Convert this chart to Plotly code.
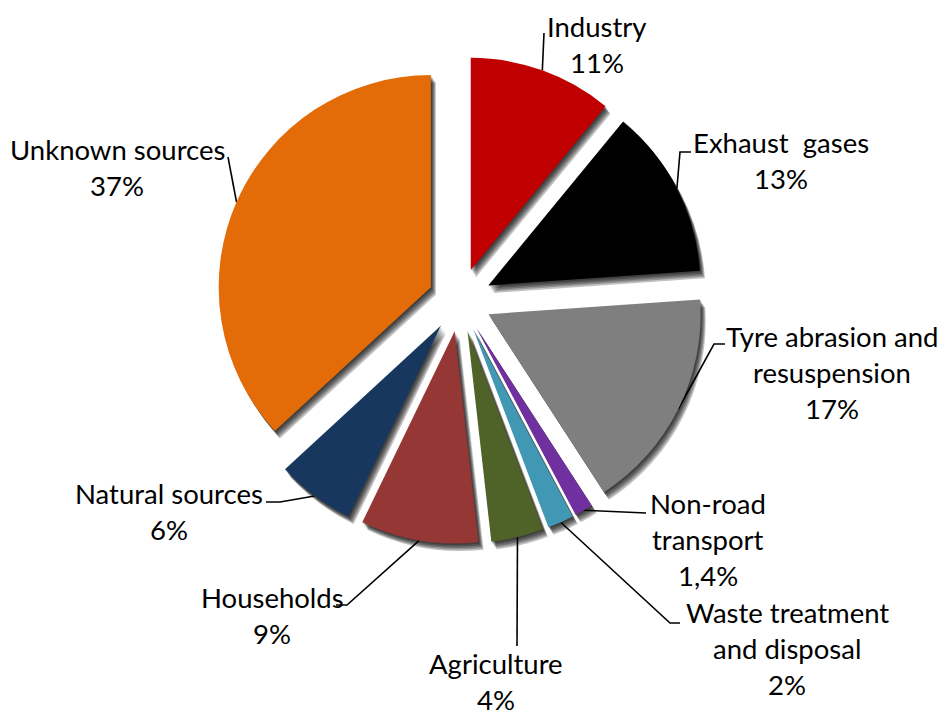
import math
import plotly.graph_objects as go

# Sources of particulate emissions (share, %)
categories = [
    "Industry",
    "Exhaust  gases",
    "Tyre abrasion and\nresuspension",
    "Non-road\ntransport",
    "Waste treatment\nand disposal",
    "Agriculture",
    "Households",
    "Natural sources",
    "Unknown sources",
]
shares = [11, 13, 17, 1.4, 2, 4, 9, 6, 37]
colors = ["#C00000", "#000000", "#7F7F7F", "#7030A0", "#4198B5",
          "#4F6228", "#953735", "#17375E", "#E36C09"]

# Label layout (pixel coordinates, origin top-left): text centre, first line y,
# and the elbow points of each leader line after it leaves the slice
label_x = [597, 781, 832, 708, 787, 496, 272, 169, 117]
label_y = [26, 142, 336, 503, 612, 663, 597, 493, 149]
elbows = [
    [(544, 33)],
    [(680, 152), (691, 152)],
    [(714, 344), (725, 344)],
    [(637, 513), (646, 513)],
    [(670, 623), (680, 623)],
    [(517, 646)],
    [(347, 605), (336, 605)],
    [(280, 502), (266, 502)],
    [(228, 157)],
]

W, H = 946, 718
CX, CY = 460, 300          # pie centre (px)
R_OUT = 244                # radius including the pull
PULL = 0.15
R = R_OUT / (1 + PULL)     # slice radius
LINE_GAP = 36
FONT = dict(family="Lato, 'Open Sans', sans-serif", size=27.5, color="#000000")


def domain_for(dx=0.0, dy=0.0):
    x0 = (CX - R_OUT + dx) / W
    x1 = (CX + R_OUT + dx) / W
    y0 = 1 - (CY + R_OUT + dy) / H
    y1 = 1 - (CY - R_OUT + dy) / H
    return dict(x=[x0, x1], y=[y0, y1])


def fmt_pct(v):
    if float(v).is_integer():
        return f"{int(v)}%"
    return f"{v}".replace(".", ",") + "%"


fig = go.Figure()

# soft drop shadow built from stacked translucent copies of the pie
for k, (dx, dy) in enumerate([(1, 1.5), (2, 3), (3, 4.5), (4, 6), (5, 7.5)]):
    fig.add_trace(go.Pie(
        values=shares, labels=[f"s{k}_{i}" for i in range(len(shares))],
        sort=False, direction="clockwise", rotation=0,
        pull=[PULL] * len(shares),
        marker=dict(colors=["rgba(0,0,0,0.24)"] * len(shares), line=dict(width=0)),
        textinfo="none", hoverinfo="skip", showlegend=False,
        domain=domain_for(dx, dy),
    ))

fig.add_trace(go.Pie(
    values=shares, labels=[c.replace("\n", " ") for c in categories],
    sort=False, direction="clockwise", rotation=0,
    pull=[PULL] * len(shares),
    marker=dict(colors=colors, line=dict(width=0)),
    textinfo="none", showlegend=False,
    domain=domain_for(),
))

# leader lines start on the arc at each slice's mid-angle
total = sum(shares)
cum = 0.0
annotations = []
for name, v, lx, ly, pts in zip(categories, shares, label_x, label_y, elbows):
    mid = (cum + v / 2) / total * 2 * math.pi
    cum += v
    ux, uy = math.sin(mid), -math.cos(mid)
    ax = CX + PULL * R * ux + R * ux
    ay = CY + PULL * R * uy + R * uy
    xs = [ax] + [p[0] for p in pts]
    ys = [ay] + [p[1] for p in pts]
    fig.add_trace(go.Scatter(x=xs, y=ys, mode="lines",
                             line=dict(color="#000000", width=1.6),
                             hoverinfo="skip", showlegend=False))
    lines = name.split("\n") + [fmt_pct(v)]
    for j, t in enumerate(lines):
        annotations.append(dict(
            x=lx, y=ly + j * LINE_GAP, xref="x", yref="y", text=t,
            showarrow=False, xanchor="center", yanchor="middle", font=FONT,
        ))

fig.update_layout(
    width=W, height=H,
    margin=dict(l=0, r=0, t=0, b=0),
    paper_bgcolor="white", plot_bgcolor="rgba(0,0,0,0)",
    xaxis=dict(range=[0, W], visible=False, domain=[0, 1], fixedrange=True),
    yaxis=dict(range=[H, 0], visible=False, domain=[0, 1], fixedrange=True),
    annotations=annotations,
)

fig.write_html("out.html")
